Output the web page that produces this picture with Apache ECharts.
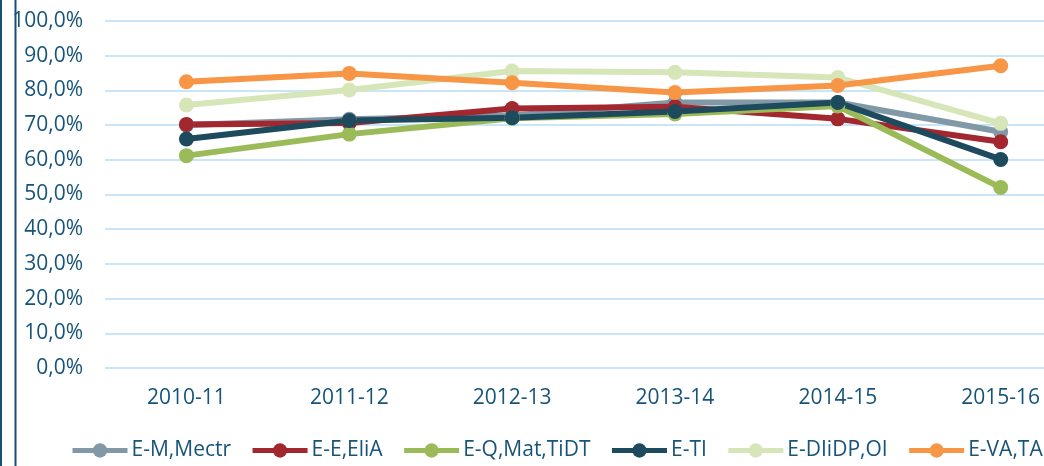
<!DOCTYPE html>
<html>
<head>
<meta charset="utf-8">
<script src="https://cdn.jsdelivr.net/npm/echarts@6/dist/echarts.min.js"></script>
<style>
html,body{margin:0;padding:0;background:#fff;}
#chart{width:1044px;height:466px;}
</style>
</head>
<body>
<div id="chart"></div>
<script>
const categories = ['2010-11','2011-12','2012-13','2013-14','2014-15','2015-16'];
const seriesNames = ['E-M,Mectr','E-E,EliA','E-Q,Mat,TiDT','E-TI','E-DIiDP,OI','E-VA,TA'];
const emMectr  = [0.700, 0.717, 0.728, 0.765, 0.765, 0.681];
const eeElia   = [0.702, 0.706, 0.748, 0.753, 0.718, 0.652];
const eqMat    = [0.612, 0.674, 0.720, 0.732, 0.755, 0.520];
const eTi      = [0.660, 0.713, 0.721, 0.739, 0.765, 0.601];
const eDiidp   = [0.758, 0.801, 0.856, 0.852, 0.837, 0.705];
const eVaTa    = [0.825, 0.849, 0.822, 0.794, 0.814, 0.871];
const yTicks = [0,0.1,0.2,0.3,0.4,0.5,0.6,0.7,0.8,0.9,1.0];

const colors = ['#8199a6','#a2272f','#9bbb59','#1e4a5d','#d6e6b8','#f79646'];
const values = [emMectr, eeElia, eqMat, eTi, eDiidp, eVaTa];
const textColor = '#17547a';
const fontFamily = '"Open Sans", "Liberation Sans", sans-serif';
const catIndex = categories.map(function(c,i){return i;});

const chart = echarts.init(document.getElementById('chart'), null, {renderer:'canvas'});
chart.setOption({
  animation:false,
  backgroundColor:'#ffffff',
  textStyle:{fontFamily:fontFamily},
  grid:{left:105, top:21, right:0, height:347, containLabel:false},
  legend:{
    data:seriesNames,
    left:70, top:440, width:1100, padding:0,
    itemWidth:55, itemHeight:18, itemGap:19,
    lineStyle:{width:5},
    textStyle:{color:textColor, fontSize:21, fontFamily:fontFamily, padding:[0,0,0,-1]}
  },
  xAxis:{
    type:'value', min:-0.5, max:5.266,
    axisLine:{show:false}, axisTick:{show:false},
    axisLabel:{color:textColor, fontSize:21, margin:20, fontFamily:fontFamily,
      customValues:catIndex,
      formatter:function(v){return categories[Math.round(v)] || '';}},
    splitLine:{show:false}
  },
  yAxis:{
    type:'value', min:0, max:1, interval:0.1,
    axisLine:{show:false}, axisTick:{show:false},
    axisLabel:{color:textColor, fontSize:21, margin:22, fontFamily:fontFamily,
      formatter:function(v){return (v*100).toFixed(1).replace('.',',')+'%';}},
    splitLine:{lineStyle:{color:'#c9e6f8', width:2}}
  },
  series: seriesNames.map(function(n,i){
    return {
      name:n, type:'line',
      data:values[i].map(function(v,j){return [catIndex[j], v];}),
      symbol:'circle', symbolSize:15,
      lineStyle:{color:colors[i], width:6},
      itemStyle:{color:colors[i]},
      emphasis:{disabled:true}
    };
  }),
  graphic:[
    {type:'rect', shape:{x:0,y:0,width:2,height:466}, style:{fill:'#165174'}},
    {type:'rect', shape:{x:14.5,y:0,width:2,height:466}, style:{fill:'#165174'}}
  ]
});
</script>
</body>
</html>
